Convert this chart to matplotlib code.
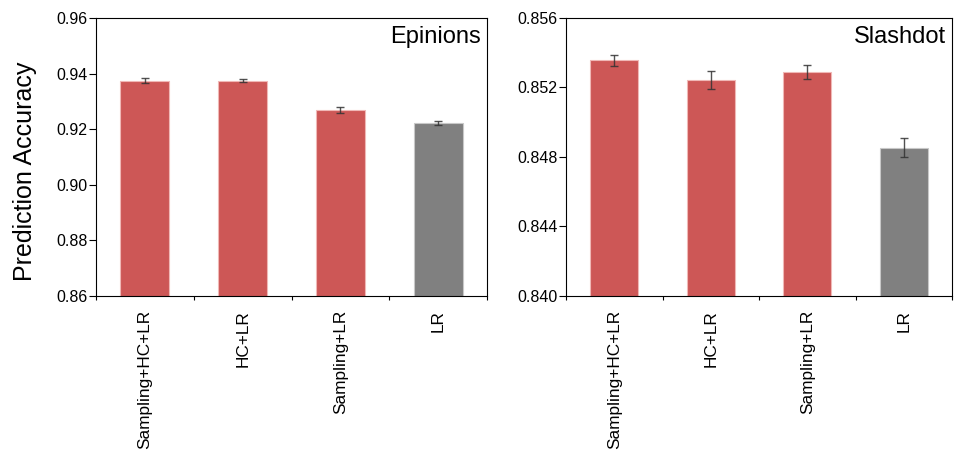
import numpy as np
import matplotlib
matplotlib.use('Agg')
import matplotlib.pyplot as plt
from matplotlib.ticker import FixedLocator, NullFormatter

plt.rcParams['font.family'] = ['Liberation Sans', 'DejaVu Sans']

methods = ['Sampling+HC+LR', 'HC+LR', 'Sampling+LR', 'LR']

# mean accuracy and error per dataset
epinions_acc = [0.9374, 0.9374, 0.9268, 0.9223]
epinions_err = [0.0009, 0.0005, 0.0011, 0.0007]
slashdot_acc = [0.85356, 0.85243, 0.85289, 0.84854]
slashdot_err = [0.00032, 0.00054, 0.00038, 0.00054]

bar_colors = ['#cd5756', '#cd5756', '#cd5756', '#808080']
edge_colors = ['#f0b8b6', '#f0b8b6', '#f0b8b6', '#c8c8c8']


def draw_panel(ax, acc, err, title, ylim, yticks, fmt):
    x = np.arange(len(methods))
    ax.bar(x, acc, width=0.5, color=bar_colors, edgecolor=edge_colors, linewidth=0.8, zorder=2)
    ax.errorbar(x, acc, yerr=err, fmt='none', ecolor='#333333', elinewidth=1.0,
                capsize=3, capthick=1.0, alpha=0.85, zorder=3)
    ax.set_xlim(-0.5, len(methods) - 0.5)
    ax.set_ylim(*ylim)
    ax.set_yticks(yticks)
    ax.set_yticklabels([fmt.format(v) for v in yticks])
    ax.set_xticks(x)
    ax.set_xticklabels(methods, rotation=90, fontsize=12.4)
    ax.tick_params(axis='x', which='major', length=0, pad=10)
    # small ticks between categories
    ax.xaxis.set_minor_locator(FixedLocator(np.arange(-0.5, len(methods), 1.0)))
    ax.xaxis.set_minor_formatter(NullFormatter())
    ax.tick_params(axis='x', which='minor', length=3, direction='out', width=0.8)
    ax.tick_params(axis='y', length=5, direction='out', width=0.8, labelsize=11.5, pad=1)
    for s in ax.spines.values():
        s.set_linewidth(0.8)
    ax.text(0.985, 0.93, title, transform=ax.transAxes, ha='right', va='center', fontsize=17)


fig = plt.figure(figsize=(9.62, 4.53), dpi=100)
ax1 = fig.add_axes([0.0998, 0.3466, 0.4065, 0.6137])
ax2 = fig.add_axes([0.5884, 0.3466, 0.4012, 0.6137])

draw_panel(ax1, epinions_acc, epinions_err, 'Epinions', (0.86, 0.96),
           [0.86, 0.88, 0.90, 0.92, 0.94, 0.96], '{:.2f}')
draw_panel(ax2, slashdot_acc, slashdot_err, 'Slashdot', (0.840, 0.856),
           [0.840, 0.844, 0.848, 0.852, 0.856], '{:.3f}')

ax1.set_ylabel('Prediction Accuracy', fontsize=18)
ax1.yaxis.set_label_coords(-0.15, 0.45)

fig.savefig('out.png', dpi=100)
